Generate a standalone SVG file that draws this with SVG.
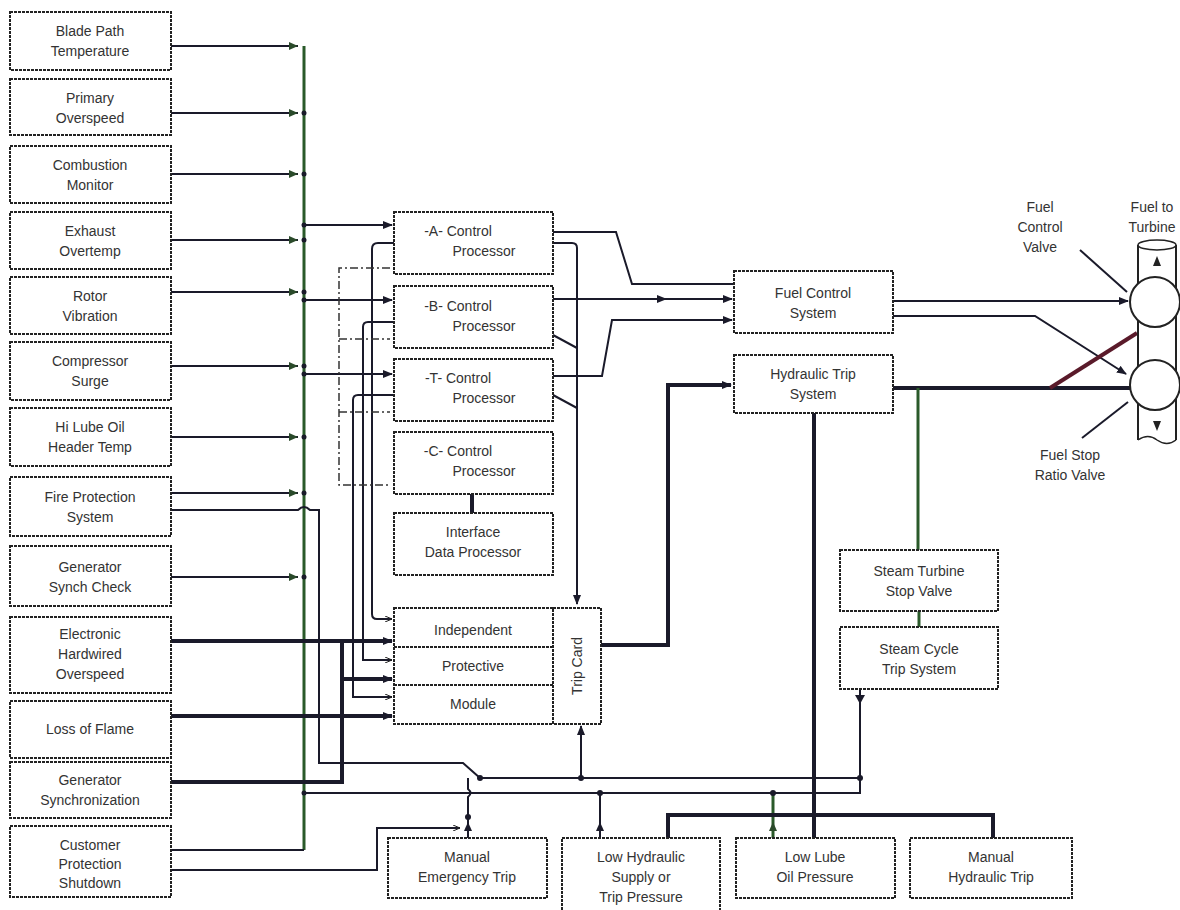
<svg xmlns="http://www.w3.org/2000/svg" width="1180" height="910" viewBox="0 0 1180 910">
<defs>
<marker id="ar" markerWidth="10" markerHeight="8" refX="9" refY="4" orient="auto" markerUnits="userSpaceOnUse"><path d="M0,0 L10,4 L0,8 z" fill="#1a1a2a"/></marker>
<marker id="ag" markerWidth="9" markerHeight="8" refX="9" refY="4" orient="auto" markerUnits="userSpaceOnUse"><path d="M0,0 L9,4 L0,8 z" fill="#2a4a2a"/></marker>
<marker id="as" markerWidth="7" markerHeight="6" refX="7" refY="3" orient="auto" markerUnits="userSpaceOnUse"><path d="M0,0 L7,3 L0,6" fill="none" stroke="#222" stroke-width="1"/></marker>
</defs>
<style>
.b{fill:#fff;stroke:#222;stroke-width:2;stroke-dasharray:3 1}
.t{font-family:"Liberation Sans",Arial,sans-serif;font-size:14px;fill:#333;text-anchor:middle}
.l{fill:none;stroke:#1a1a2a;stroke-width:2}
.k{fill:none;stroke:#1a1a2a;stroke-width:4}
.g{fill:none;stroke:#2a5a2a;stroke-width:3}
.d{fill:none;stroke:#333;stroke-width:1.5;stroke-dasharray:8 3 2 3}
.dot{fill:#1a1a2a}
</style>
<rect width="1180" height="910" fill="#fff"/>
<g id="connectors">
<path class="g" d="M304,46 V850" stroke-width="2.5"/>
<path class="l" d="M171,46 H298" marker-end="url(#ag)"/>
<path class="l" d="M171,113 H298" marker-end="url(#ag)"/>
<path class="l" d="M171,174 H298" marker-end="url(#ag)"/>
<path class="l" d="M171,240 H298" marker-end="url(#ag)"/>
<path class="l" d="M171,292 H298" marker-end="url(#ag)"/>
<path class="l" d="M171,366 H298" marker-end="url(#ag)"/>
<path class="l" d="M171,437 H298" marker-end="url(#ag)"/>
<path class="l" d="M171,493 H298" marker-end="url(#ag)"/>
<path class="l" d="M171,577 H298" marker-end="url(#ag)"/>
<path class="l" d="M171,850 H304"/>
<g class="dot"><circle cx="304" cy="113" r="2.5"/><circle cx="304" cy="174" r="2.5"/><circle cx="304" cy="225" r="2.5"/><circle cx="304" cy="240" r="2.5"/><circle cx="304" cy="292" r="2.5"/><circle cx="304" cy="300" r="2.5"/><circle cx="304" cy="366" r="2.5"/><circle cx="304" cy="374" r="2.5"/><circle cx="304" cy="437" r="2.5"/><circle cx="304" cy="493" r="2.5"/><circle cx="304" cy="577" r="2.5"/><circle cx="304" cy="793" r="2.5"/></g>
<path class="l" d="M304,225 H392" marker-end="url(#ar)"/>
<path class="l" d="M304,300 H392" marker-end="url(#ar)"/>
<path class="l" d="M304,374 H392" marker-end="url(#ar)"/>
<path class="l" d="M171,510 H298 q6,-6 12,0 H319 V763 H463 L480,778"/>
<path class="k" d="M171,641 H392" marker-end="url(#ar)"/>
<path class="k" d="M171,716 H392" marker-end="url(#ar)"/>
<path class="k" d="M171,782 H342 V641"/>
<path class="k" d="M342,679 H392" marker-end="url(#ar)"/>
<path class="l" d="M394,243 H378 q-6,0 -6,6 V614 q0,5 5,5 H392" stroke-width="1.5" marker-end="url(#as)"/>
<path class="l" d="M394,322 H368 q-5,0 -5,5 V660 H392" stroke-width="1.5" marker-end="url(#as)"/>
<path class="l" d="M394,395 H358 q-5,0 -5,5 V697 H392" stroke-width="1.5" marker-end="url(#as)"/>
<path class="d" d="M390,268 H339 V485 H390"/>
<path class="d" d="M339,339 H390"/>
<path class="d" d="M339,412 H390"/>
<path class="l" d="M553,232 H616 L632,284 H734"/>
<path class="l" d="M553,243 H572 q5,0 5,5 V604" marker-end="url(#ar)"/>
<path class="l" d="M553,335 L577,348"/>
<path class="l" d="M553,395 L577,408"/>
<path class="l" d="M553,299 H732" marker-end="url(#ar)"/>
<path class="l" d="M660,299 H666" marker-end="url(#ar)"/>
<path class="l" d="M553,376 H602 L612,320 H732" marker-end="url(#ar)"/>
<path class="k" d="M472,494 V513"/>
<path class="k" d="M601,645 H668 V385 H731" marker-end="url(#ar)"/>
<path class="l" d="M893,301 H1128" marker-end="url(#ar)"/>
<path class="l" d="M893,316 H1035 L1126,374" marker-end="url(#ar)"/>
<path class="k" d="M893,388 H1132"/>
<path d="M1050,388 L1137,333" stroke="#5a1a2a" stroke-width="4"/>
<path class="g" d="M918,388 V550"/>
<path class="g" d="M919,611 V627" stroke-width="4"/>
<path class="l" d="M1080,250 L1127,292" stroke-width="1.5"/>
<path class="l" d="M1082,438 L1128,402" stroke-width="1.5"/>
<path class="l" d="M860,689 V793 H304"/>
<path class="l" d="M860,778 H480"/>
<circle class="dot" cx="860" cy="778" r="3"/>
<circle class="dot" cx="480" cy="778" r="3"/>
<path d="M860,704 L855,695 H865 z" fill="#1a1a2a"/>
<path class="l" d="M581,778 V726" stroke="#3a2a2a" marker-end="url(#ar)"/>
<circle class="dot" cx="581" cy="778" r="3"/>
<path class="l" d="M468,838 V797 q5,-4 0,-8 V778"/>
<path d="M468,822 L464,831 H472 z" fill="#1a1a2a"/>
<circle class="dot" cx="468" cy="817" r="3"/>
<path class="l" d="M171,870 H377 V828 H460" marker-end="url(#as)"/>
<path class="l" d="M600,838 V793"/>
<path d="M600,822 L596,831 H604 z" fill="#1a1a2a"/>
<circle class="dot" cx="600" cy="793" r="3"/>
<path class="g" d="M773,838 V793" stroke-width="2"/>
<path d="M773,822 L769,831 H777 z" fill="#2a4a2a"/>
<circle class="dot" cx="773" cy="793" r="3"/>
<path class="k" d="M668,838 V815 H993 V838"/>
<path class="k" d="M814,413 V838"/>
</g>
<g id="n1"><rect class="b" x="10" y="12" width="161" height="58"/><text class="t" x="90" y="36">Blade Path</text><text class="t" x="90" y="56">Temperature</text></g>
<g id="n2"><rect class="b" x="10" y="79" width="161" height="56"/><text class="t" x="90" y="103">Primary</text><text class="t" x="90" y="123">Overspeed</text></g>
<g id="n3"><rect class="b" x="10" y="146" width="161" height="57"/><text class="t" x="90" y="170">Combustion</text><text class="t" x="90" y="190">Monitor</text></g>
<g id="n4"><rect class="b" x="10" y="212" width="161" height="57"/><text class="t" x="90" y="236">Exhaust</text><text class="t" x="90" y="256">Overtemp</text></g>
<g id="n5"><rect class="b" x="10" y="277" width="161" height="57"/><text class="t" x="90" y="301">Rotor</text><text class="t" x="90" y="321">Vibration</text></g>
<g id="n6"><rect class="b" x="10" y="342" width="161" height="58"/><text class="t" x="90" y="366">Compressor</text><text class="t" x="90" y="386">Surge</text></g>
<g id="n7"><rect class="b" x="10" y="408" width="161" height="58"/><text class="t" x="90" y="432">Hi Lube Oil</text><text class="t" x="90" y="452">Header Temp</text></g>
<g id="n8"><rect class="b" x="10" y="477" width="161" height="59"/><text class="t" x="90" y="502">Fire Protection</text><text class="t" x="90" y="522">System</text></g>
<g id="n9"><rect class="b" x="10" y="546" width="161" height="60"/><text class="t" x="90" y="572">Generator</text><text class="t" x="90" y="592">Synch Check</text></g>
<g id="n10"><rect class="b" x="10" y="617" width="161" height="76"/><text class="t" x="90" y="639">Electronic</text><text class="t" x="90" y="659">Hardwired</text><text class="t" x="90" y="679">Overspeed</text></g>
<g id="n11"><rect class="b" x="10" y="701" width="161" height="57"/><text class="t" x="90" y="734">Loss of Flame</text></g>
<g id="n12"><rect class="b" x="10" y="762" width="161" height="56"/><text class="t" x="90" y="785">Generator</text><text class="t" x="90" y="805">Synchronization</text></g>
<g id="n13"><rect class="b" x="10" y="826" width="161" height="71"/><text class="t" x="90" y="850">Customer</text><text class="t" x="90" y="869">Protection</text><text class="t" x="90" y="888">Shutdown</text></g>
<g id="pA"><rect class="b" x="394" y="212" width="159" height="62"/><text class="t" x="458" y="236">-A- Control</text><text class="t" x="484" y="256">Processor</text></g>
<g id="pB"><rect class="b" x="394" y="286" width="159" height="62"/><text class="t" x="458" y="311">-B- Control</text><text class="t" x="484" y="331">Processor</text></g>
<g id="pT"><rect class="b" x="394" y="359" width="159" height="62"/><text class="t" x="458" y="383">-T- Control</text><text class="t" x="484" y="403">Processor</text></g>
<g id="pC"><rect class="b" x="394" y="432" width="159" height="62"/><text class="t" x="458" y="456">-C- Control</text><text class="t" x="484" y="476">Processor</text></g>
<g id="idp"><rect class="b" x="394" y="513" width="159" height="62"/><text class="t" x="473" y="537">Interface</text><text class="t" x="473" y="557">Data Processor</text></g>
<g id="ipm"><rect class="b" x="394" y="608" width="159" height="116"/><path d="M394,647 H553 M394,685 H553" stroke="#222" stroke-width="2" stroke-dasharray="3 1"/><text class="t" x="473" y="635">Independent</text><text class="t" x="473" y="671">Protective</text><text class="t" x="473" y="709">Module</text></g>
<g id="trip"><rect class="b" x="553" y="608" width="48" height="116"/><text class="t" transform="translate(582,666) rotate(-90)">Trip Card</text></g>
<g id="fcs"><rect class="b" x="734" y="271" width="159" height="62"/><text class="t" x="813" y="298">Fuel Control</text><text class="t" x="813" y="318">System</text></g>
<g id="hts"><rect class="b" x="734" y="355" width="159" height="58"/><text class="t" x="813" y="379">Hydraulic Trip</text><text class="t" x="813" y="399">System</text></g>
<g id="stsv"><rect class="b" x="840" y="550" width="158" height="61"/><text class="t" x="919" y="576">Steam Turbine</text><text class="t" x="919" y="596">Stop Valve</text></g>
<g id="scts"><rect class="b" x="840" y="627" width="158" height="62"/><text class="t" x="919" y="654">Steam Cycle</text><text class="t" x="919" y="674">Trip System</text></g>
<g id="met"><rect class="b" x="388" y="838" width="159" height="60"/><text class="t" x="467" y="862">Manual</text><text class="t" x="467" y="882">Emergency Trip</text></g>
<g id="lhs"><rect class="b" x="562" y="838" width="158" height="74"/><text class="t" x="641" y="862">Low Hydraulic</text><text class="t" x="641" y="882">Supply or</text><text class="t" x="641" y="902">Trip Pressure</text></g>
<g id="llo"><rect class="b" x="736" y="838" width="159" height="60"/><text class="t" x="815" y="862">Low Lube</text><text class="t" x="815" y="882">Oil Pressure</text></g>
<g id="mht"><rect class="b" x="910" y="838" width="162" height="60"/><text class="t" x="991" y="862">Manual</text><text class="t" x="991" y="882">Hydraulic Trip</text></g>
<g id="valves">
<path d="M1138,245 V440 M1176,245 V440" stroke="#222" stroke-width="2"/>
<ellipse cx="1157" cy="245" rx="19" ry="5" fill="#fff" stroke="#222" stroke-width="1.5"/>
<path d="M1138,440 q10,-7 19,0 q10,7 19,0" fill="none" stroke="#222" stroke-width="1.5"/>
<circle cx="1155" cy="302" r="25" fill="#fff" stroke="#222" stroke-width="2"/>
<circle cx="1155" cy="385" r="25" fill="#fff" stroke="#222" stroke-width="2"/>
<path d="M1157,256 L1153,266 H1161 z M1157,431 L1153,421 H1161 z" fill="#222"/>
<text class="t" x="1040" y="212">Fuel</text><text class="t" x="1040" y="232">Control</text><text class="t" x="1040" y="252">Valve</text>
<text class="t" x="1152" y="212">Fuel to</text><text class="t" x="1152" y="232">Turbine</text>
<text class="t" x="1070" y="460">Fuel Stop</text><text class="t" x="1070" y="480">Ratio Valve</text>
</g>
</svg>
